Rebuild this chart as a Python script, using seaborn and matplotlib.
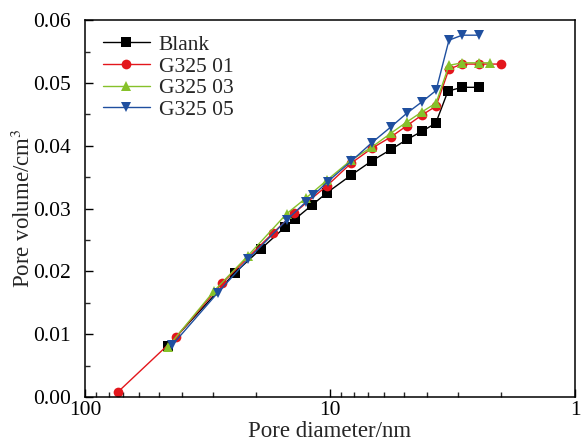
import numpy as np
import pandas as pd
import matplotlib
matplotlib.use("Agg")
import matplotlib.pyplot as plt
from matplotlib.ticker import LogLocator, FixedLocator, MultipleLocator, NullFormatter, FixedFormatter
from matplotlib.lines import Line2D
import seaborn as sns

series_names = ["Blank", "G325 01", "G325 03", "G325 05"]

blank_d = [46.0, 24.4, 19.1, 15.3, 13.9, 11.8, 10.3, 8.21, 6.74, 5.64, 4.85, 4.21, 3.70, 3.30, 2.89, 2.47]
blank_v = [0.0081, 0.0198, 0.0236, 0.0270, 0.0283, 0.0306, 0.0325, 0.0353, 0.0376, 0.0394, 0.0410, 0.0423, 0.0436, 0.0487, 0.0493, 0.0493]

g01_d = [73.3, 42.5, 27.6, 17.1, 14.0, 10.3, 8.21, 6.74, 5.64, 4.85, 4.21, 3.69, 3.27, 2.89, 2.46, 2.00]
g01_v = [0.0008, 0.0095, 0.0181, 0.0261, 0.0293, 0.0336, 0.0372, 0.0396, 0.0414, 0.0432, 0.0449, 0.0463, 0.0522, 0.0530, 0.0530, 0.0530]

g03_d = [45.8, 29.7, 21.6, 15.0, 12.5, 10.3, 8.21, 6.74, 5.64, 4.85, 4.21, 3.69, 3.27, 2.89, 2.46, 2.22]
g03_v = [0.0080, 0.0169, 0.0225, 0.0292, 0.0317, 0.0345, 0.0377, 0.0398, 0.0420, 0.0438, 0.0454, 0.0468, 0.0528, 0.0532, 0.0532, 0.0532]

g05_d = [44.2, 28.7, 21.6, 15.0, 12.5, 11.7, 10.2, 8.21, 6.74, 5.64, 4.85, 4.21, 3.69, 3.27, 2.89, 2.46]
g05_v = [0.0082, 0.0166, 0.0219, 0.0282, 0.0311, 0.0321, 0.0343, 0.0375, 0.0405, 0.0430, 0.0452, 0.0470, 0.0488, 0.0568, 0.0576, 0.0576]

colors = ["#000000", "#e3161c", "#86c12a", "#1f4f9f"]
markers = ["s", "o", "^", "v"]

frames = []
for name, d, v in zip(series_names, [blank_d, g01_d, g03_d, g05_d], [blank_v, g01_v, g03_v, g05_v]):
    frames.append(pd.DataFrame({"d": d, "v": v, "series": name}))
df = pd.concat(frames, ignore_index=True)

sns.set_theme(style="white")
plt.rcParams["font.family"] = ["Liberation Serif", "DejaVu Serif"]
plt.rcParams["mathtext.fontset"] = "stix"

fig = plt.figure(figsize=(5.82, 4.47), dpi=100)
ax = fig.add_axes([0.146, 0.112, 0.842, 0.843])

sns.lineplot(data=df, x="d", y="v", hue="series", style="series",
             hue_order=series_names, style_order=series_names,
             palette=dict(zip(series_names, colors)),
             markers=dict(zip(series_names, markers)), dashes=False,
             sort=False, estimator=None,
             markersize=7, markeredgewidth=0, linewidth=1.0, legend=False, ax=ax)

ax.set_xscale("log")
ax.set_xlim(100, 1)
ax.set_ylim(0, 0.06)

ax.xaxis.set_major_locator(FixedLocator([100, 10, 1]))
ax.xaxis.set_major_formatter(FixedFormatter(["100", "10", "1"]))
ax.xaxis.set_minor_locator(LogLocator(base=10, subs=np.arange(2, 10)))
ax.xaxis.set_minor_formatter(NullFormatter())
ax.yaxis.set_major_locator(MultipleLocator(0.01))
ax.yaxis.set_minor_locator(MultipleLocator(0.005))
ax.yaxis.set_major_formatter(matplotlib.ticker.FormatStrFormatter("%.2f"))

ax.tick_params(axis="both", which="major", direction="in", length=6, width=1, labelsize=15.5,
               bottom=True, left=True, top=False, right=False, colors="black")
ax.tick_params(axis="x", which="major", pad=3)
ax.tick_params(axis="y", which="major", pad=10)
ax.tick_params(axis="both", which="minor", direction="in", length=3.5, width=1,
               bottom=True, left=True, top=False, right=False)

for s in ax.spines.values():
    s.set_color("black")
    s.set_linewidth(1.1)

ax.set_xlabel("Pore diameter/nm", fontsize=16.5, labelpad=1)
ax.set_ylabel("Pore volume/cm$^3$", fontsize=16.5, labelpad=-1)

handles = [Line2D([], [], color=c, marker=m, markersize=7, markeredgewidth=0, linewidth=1.0)
           for c, m in zip(colors, markers)]
ax.legend(handles, series_names, loc="upper left", bbox_to_anchor=(0.01, 0.995), frameon=False,
          fontsize=15.5, handlelength=2.2, handletextpad=0.4, labelspacing=0.07, borderaxespad=0.2)

fig.savefig("out.png", dpi=100)
